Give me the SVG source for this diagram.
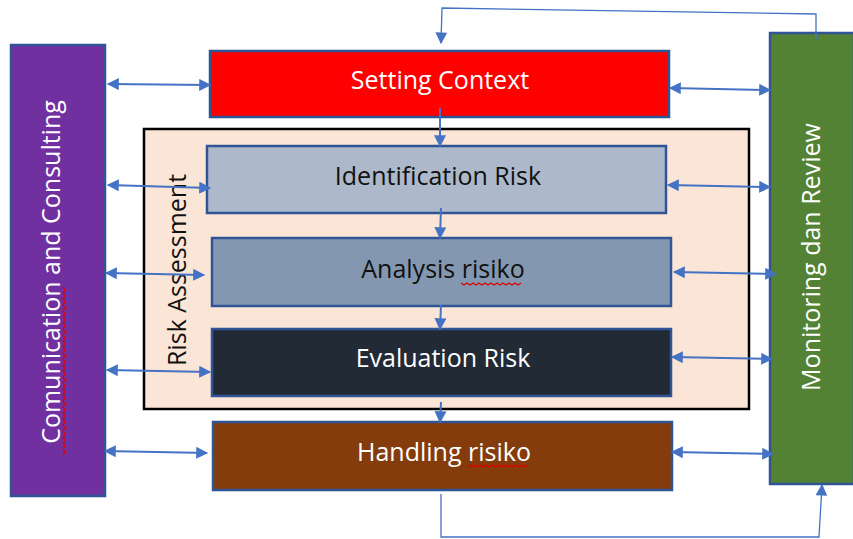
<svg xmlns="http://www.w3.org/2000/svg" width="853" height="539" viewBox="0 0 853 539">
<defs>
<marker id="ah" viewBox="0 0 10 10" refX="9" refY="5" markerWidth="6.5" markerHeight="6" orient="auto-start-reverse" markerUnits="strokeWidth">
<path d="M0,0 L10,5 L0,10 Z" fill="#4472C4"/>
</marker>
<marker id="ah2" viewBox="0 0 10 10" refX="9" refY="5" markerWidth="10" markerHeight="9" orient="auto-start-reverse" markerUnits="strokeWidth">
<path d="M0,0 L10,5 L0,10 Z" fill="#4472C4"/>
</marker>
</defs>
<style>
.box{stroke:#2F5597;stroke-width:2.5}
.t{font-family:"Open Sans","Liberation Sans",sans-serif;font-size:25px;text-anchor:middle;dominant-baseline:central}
.w{fill:#FFFFFF}
.k{fill:#111111}
.c{fill:none;stroke:#4472C4;stroke-width:2}
.c1{fill:none;stroke:#4472C4;stroke-width:1.3}
.sq{fill:none;stroke:#E00000;stroke-width:1.2}
</style>
<rect width="853" height="539" fill="#FFFFFF"/>
<g id="risk-assessment">
<rect x="144" y="129" width="605" height="280" fill="#FBE5D6" stroke="#000000" stroke-width="2.5"/>
<text class="t k" transform="translate(176,270) rotate(-90)" font-size="22">Risk Assessment</text>
</g>
<g id="communication">
<rect class="box" x="11" y="45" width="94" height="451" fill="#7030A0"/>
<text class="t w" transform="translate(50,272) rotate(-90)" font-size="29">Comunication and Consulting</text>
<path class="sq" d="M63,455 l2,-3 l-2,-3 l2,-3 l-2,-3 l2,-3 l-2,-3 l2,-3 l-2,-3 l2,-3 l-2,-3 l2,-3 l-2,-3 l2,-3 l-2,-3 l2,-3 l-2,-3 l2,-3 l-2,-3 l2,-3 l-2,-3 l2,-3 l-2,-3 l2,-3 l-2,-3 l2,-3 l-2,-3 l2,-3 l-2,-3 l2,-3 l-2,-3 l2,-3 l-2,-3 l2,-3 l-2,-3 l2,-3 l-2,-3 l2,-3 l-2,-3 l2,-3 l-2,-3 l2,-3 l-2,-3 l2,-3 l-2,-3 l2,-3 l-2,-3 l2,-3 l-2,-3 l2,-3 l-2,-3 l2,-3 l-2,-3 l2,-3 l-2,-3 l2,-3 l-2,-3"/>
</g>
<g id="monitoring">
<rect class="box" x="770" y="33" width="84" height="451" fill="#548235"/>
<text class="t w" transform="translate(810,257) rotate(-90)" font-size="29">Monitoring dan Review</text>
</g>
<g id="setting-context">
<rect class="box" x="210" y="51" width="459" height="66" fill="#FF0000"/>
<text class="t w" x="440" y="79">Setting Context</text>
</g>
<g id="identification">
<rect class="box" x="207" y="146" width="459" height="67" fill="#ADB9CA"/>
<text class="t k" x="438" y="175">Identification Risk</text>
</g>
<g id="analysis">
<rect class="box" x="212" y="238" width="459" height="68" fill="#8497B0"/>
<text class="t k" x="443" y="268">Analysis risiko</text>
<path class="sq" d="M461,283 l3,2 l3,-2 l3,2 l3,-2 l3,2 l3,-2 l3,2 l3,-2 l3,2 l3,-2 l3,2 l3,-2 l3,2 l3,-2 l3,2 l3,-2 l3,2 l3,-2 l3,2 l3,-2"/>
</g>
<g id="evaluation">
<rect class="box" x="212" y="329" width="459" height="67" fill="#222A35"/>
<text class="t w" x="443" y="357">Evaluation Risk</text>
</g>
<g id="handling">
<rect class="box" x="213" y="422" width="459" height="68" fill="#843C0C"/>
<text class="t w" x="444" y="451">Handling risiko</text>
<path class="sq" d="M468,465 l3,2 l3,-2 l3,2 l3,-2 l3,2 l3,-2 l3,2 l3,-2 l3,2 l3,-2 l3,2 l3,-2 l3,2 l3,-2 l3,2 l3,-2 l3,2 l3,-2 l3,2 l3,-2"/>
</g>
<g id="connectors">
<path class="c" d="M108,84 L210,85" marker-start="url(#ah)" marker-end="url(#ah)"/>
<path class="c" d="M108,185 L210,188" marker-start="url(#ah)" marker-end="url(#ah)"/>
<path class="c" d="M106,273 L204,275" marker-start="url(#ah)" marker-end="url(#ah)"/>
<path class="c" d="M107,370 L210,372" marker-start="url(#ah)" marker-end="url(#ah)"/>
<path class="c" d="M105,451 L207,453" marker-start="url(#ah)" marker-end="url(#ah)"/>
<path class="c" d="M670,88 L770,90" marker-start="url(#ah)" marker-end="url(#ah)"/>
<path class="c" d="M668,185 L770,187" marker-start="url(#ah)" marker-end="url(#ah)"/>
<path class="c" d="M674,272 L776,274" marker-start="url(#ah)" marker-end="url(#ah)"/>
<path class="c" d="M672,357 L772,359" marker-start="url(#ah)" marker-end="url(#ah)"/>
<path class="c" d="M672,452 L773,454" marker-start="url(#ah)" marker-end="url(#ah)"/>
<path class="c" d="M440,108 L440,146" marker-end="url(#ah)"/>
<path class="c" d="M441,208 L440,238" marker-end="url(#ah)"/>
<path class="c" d="M441,305 L440,329" marker-end="url(#ah)"/>
<path class="c" d="M441,402 L440,422" marker-end="url(#ah)"/>
<path class="c1" d="M816,40 L816,14 L442,8 L441,43" marker-end="url(#ah2)"/>
<path class="c1" d="M441,494 L441,537 L819,537 L822,485" marker-end="url(#ah2)"/>
</g>
</svg>
